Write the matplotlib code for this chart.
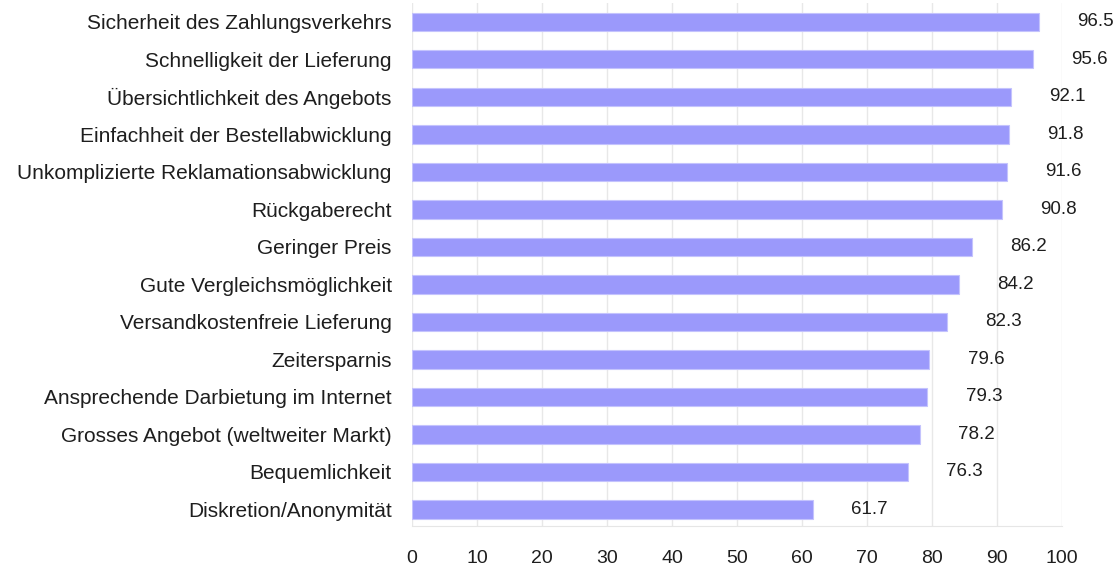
import numpy as np
from matplotlib import pyplot as plt

plt.rcParams['font.family'] = ['Liberation Sans', 'DejaVu Sans']

categories = [
    "Sicherheit des Zahlungsverkehrs",
    "Schnelligkeit der Lieferung",
    "Übersichtlichkeit des Angebots",
    "Einfachheit der Bestellabwicklung",
    "Unkomplizierte Reklamationsabwicklung",
    "Rückgaberecht",
    "Geringer Preis",
    "Gute Vergleichsmöglichkeit",
    "Versandkostenfreie Lieferung",
    "Zeitersparnis",
    "Ansprechende Darbietung im Internet",
    "Grosses Angebot (weltweiter Markt)",
    "Bequemlichkeit",
    "Diskretion/Anonymität",
]
values = [96.5, 95.6, 92.1, 91.8, 91.6, 90.8, 86.2, 84.2, 82.3, 79.6, 79.3, 78.2, 76.3, 61.7]
xticks = [0, 10, 20, 30, 40, 50, 60, 70, 80, 90, 100]

fig = plt.figure(figsize=(11.18, 5.67), dpi=100)
ax1 = fig.add_axes([412 / 1118, 1 - 526 / 567, 650 / 1118, 523 / 567])

y = np.arange(len(categories))
ax1.barh(y, values, height=0.49, color='#9b99fb', edgecolor='#c4c3fd', linewidth=0.8, zorder=3)

for yi, v in zip(y, values):
    ax1.annotate("%.1f" % v, (v, yi), xytext=(27.5, 0), textcoords='offset points',
                 ha='left', va='center', fontsize=13.5, color='#1e1e1e')

ax1.set_yticks(y)
ax1.set_yticklabels(categories, fontsize=15, color='#1e1e1e')
ax1.set_xticks(xticks)
ax1.set_xticklabels([str(t) for t in xticks], fontsize=14, color='#1e1e1e')
ax1.set_xlim(0, 100)
ax1.set_ylim(13.44, -0.5)
ax1.tick_params(axis='both', length=0)
ax1.tick_params(axis='y', pad=14.5)
ax1.tick_params(axis='x', pad=17)

ax1.grid(axis='x', color='#e8e8e8', linewidth=1, zorder=0)
for s in ['top', 'right', 'left']:
    ax1.spines[s].set_visible(False)
ax1.spines['bottom'].set_color('#e6e6e6')

plt.savefig("out.png", dpi=100)
plt.close()
